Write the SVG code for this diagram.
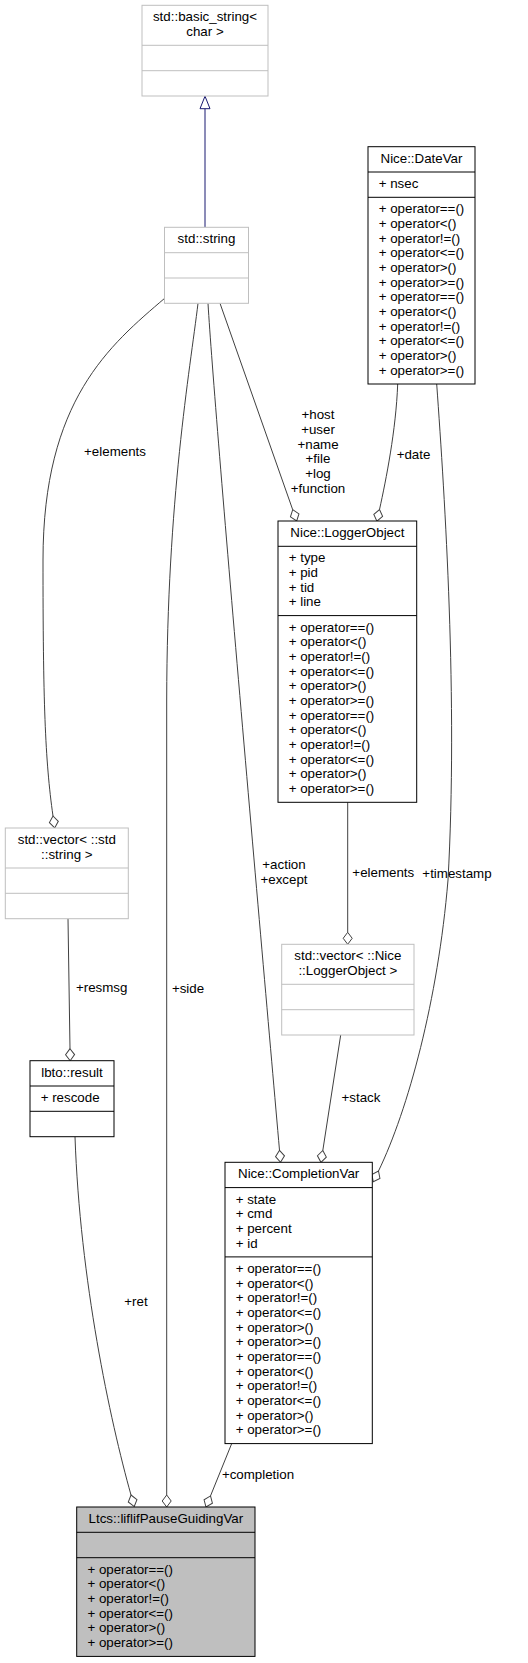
<svg xmlns="http://www.w3.org/2000/svg" width="528" height="1663" viewBox="0 0 528 1663">
<style>
text{font-family:"Liberation Sans",Arial,Helvetica,sans-serif;font-size:13.33px;fill:#000}
.c{text-anchor:middle}
.bk{fill:#fff;stroke:#000;stroke-width:1}
.gy{fill:#fff;stroke:#bfbfbf;stroke-width:1}
.sel{fill:#bfbfbf;stroke:#000;stroke-width:1}
.sk{stroke:#000;stroke-width:1}
.sg{stroke:#bfbfbf;stroke-width:1}
.e{fill:none;stroke:#404040;stroke-width:1;marker-end:url(#dia)}
.inh{fill:none;stroke:#191970;stroke-width:1;marker-end:url(#tri)}
</style>
<defs>
<marker id="dia" markerUnits="userSpaceOnUse" viewBox="-1 -6 14 12" refX="0" refY="0" markerWidth="14" markerHeight="12" orient="auto" overflow="visible">
<path d="M0,0 L6,-4.5 L12,0 L6,4.5 Z" fill="#fff" stroke="#404040" stroke-width="1"/>
</marker>
<marker id="tri" markerUnits="userSpaceOnUse" viewBox="-1 -6 15 12" refX="0" refY="0" markerWidth="15" markerHeight="12" orient="auto" overflow="visible">
<path d="M0,-5 L12.5,0 L0,5 Z" fill="#fff" stroke="#191970" stroke-width="1"/>
</marker>
</defs>

<g id="edges">
<path class="inh" d="M205,227.3 L205,108.7"/>
<path class="e" d="M165,298 C110,345 43,400 43,560 C43,700 45,760 53,816"/>
<path class="e" d="M68,918.7 L70,1048.7"/>
<path class="e" d="M75,1136.7 C80,1280 110,1420 131,1495"/>
<path class="e" d="M198,303.3 C190,370 167,500 166.7,700 L166.7,1495"/>
<path class="e" d="M208,303.3 C215,420 262,950 279.5,1150.3"/>
<path class="e" d="M220,303.3 L292.7,509.7"/>
<path class="e" d="M397.7,384 C396,430 386,480 379.5,509.5"/>
<path class="e" d="M436.7,384 C445,500 458,700 448,880 C438,1000 408,1110 378.5,1171"/>
<path class="e" d="M347.7,802.3 L347.7,932.3"/>
<path class="e" d="M340.7,1035 L322.8,1150.5"/>
<path class="e" d="M231.7,1443.6 L210.5,1495.9"/>
<text class="c" x="115" y="456">+elements</text>
<text class="c" x="101.7" y="992">+resmsg</text>
<text class="c" x="188" y="992.7">+side</text>
<text class="c" x="136" y="1306">+ret</text>
<text class="c" x="258" y="1479.3">+completion</text>
<text class="c" x="284" y="869.3">+action</text>
<text class="c" x="284" y="884">+except</text>
<text class="c" x="383.3" y="876.7">+elements</text>
<text class="c" x="361" y="1101.7">+stack</text>
<text class="c" x="457" y="878">+timestamp</text>
<text class="c" x="318" y="419.3">+host</text>
<text class="c" x="318" y="434">+user</text>
<text class="c" x="318" y="448.7">+name</text>
<text class="c" x="318" y="463.3">+file</text>
<text class="c" x="318" y="478">+log</text>
<text class="c" x="318" y="492.7">+function</text>
<text class="c" x="413.5" y="459">+date</text>
</g>

<g id="basic_string">
<rect class="gy" x="142" y="5.3" width="126" height="90.7"/>
<line class="sg" x1="142" y1="45.3" x2="268" y2="45.3"/>
<line class="sg" x1="142" y1="70.7" x2="268" y2="70.7"/>
<text class="c" x="205" y="21.3">std::basic_string&lt;</text>
<text class="c" x="205" y="36">char &gt;</text>
</g>

<g id="std_string">
<rect class="gy" x="164.5" y="227.3" width="84" height="76"/>
<line class="sg" x1="164.5" y1="252.7" x2="248.5" y2="252.7"/>
<line class="sg" x1="164.5" y1="278" x2="248.5" y2="278"/>
<text class="c" x="206.5" y="243.3">std::string</text>
</g>

<g id="DateVar">
<rect class="bk" x="368" y="146.7" width="107" height="237.3"/>
<line class="sk" x1="368" y1="172" x2="475" y2="172"/>
<line class="sk" x1="368" y1="197.3" x2="475" y2="197.3"/>
<text class="c" x="421.5" y="162.7">Nice::DateVar</text>
<text x="378.7" y="188">+ nsec</text>
<text x="378.7" y="213.3">+ operator==()</text>
<text x="378.7" y="228">+ operator&lt;()</text>
<text x="378.7" y="242.7">+ operator!=()</text>
<text x="378.7" y="257.3">+ operator&lt;=()</text>
<text x="378.7" y="272">+ operator&gt;()</text>
<text x="378.7" y="286.7">+ operator&gt;=()</text>
<text x="378.7" y="301.3">+ operator==()</text>
<text x="378.7" y="316">+ operator&lt;()</text>
<text x="378.7" y="330.7">+ operator!=()</text>
<text x="378.7" y="345.3">+ operator&lt;=()</text>
<text x="378.7" y="360">+ operator&gt;()</text>
<text x="378.7" y="374.7">+ operator&gt;=()</text>
</g>

<g id="LoggerObject">
<rect class="bk" x="278" y="521" width="138.7" height="281.3"/>
<line class="sk" x1="278" y1="546.3" x2="416.7" y2="546.3"/>
<line class="sk" x1="278" y1="615.6" x2="416.7" y2="615.6"/>
<text class="c" x="347.35" y="537">Nice::LoggerObject</text>
<text x="288.7" y="562.3">+ type</text>
<text x="288.7" y="577">+ pid</text>
<text x="288.7" y="591.7">+ tid</text>
<text x="288.7" y="606.3">+ line</text>
<text x="288.7" y="631.6">+ operator==()</text>
<text x="288.7" y="646.3">+ operator&lt;()</text>
<text x="288.7" y="661">+ operator!=()</text>
<text x="288.7" y="675.6">+ operator&lt;=()</text>
<text x="288.7" y="690.3">+ operator&gt;()</text>
<text x="288.7" y="705">+ operator&gt;=()</text>
<text x="288.7" y="719.6">+ operator==()</text>
<text x="288.7" y="734.3">+ operator&lt;()</text>
<text x="288.7" y="749">+ operator!=()</text>
<text x="288.7" y="763.6">+ operator&lt;=()</text>
<text x="288.7" y="778.3">+ operator&gt;()</text>
<text x="288.7" y="793">+ operator&gt;=()</text>
</g>

<g id="vector_string">
<rect class="gy" x="5.3" y="828" width="123" height="90.7"/>
<line class="sg" x1="5.3" y1="868" x2="128.3" y2="868"/>
<line class="sg" x1="5.3" y1="893.3" x2="128.3" y2="893.3"/>
<text class="c" x="66.8" y="844">std::vector&lt; ::std</text>
<text class="c" x="66.8" y="858.7">::string &gt;</text>
</g>

<g id="vector_LoggerObject">
<rect class="gy" x="281.7" y="944.3" width="132.3" height="90.7"/>
<line class="sg" x1="281.7" y1="984.3" x2="414" y2="984.3"/>
<line class="sg" x1="281.7" y1="1009.7" x2="414" y2="1009.7"/>
<text class="c" x="347.85" y="960.3">std::vector&lt; ::Nice</text>
<text class="c" x="347.85" y="975">::LoggerObject &gt;</text>
</g>

<g id="lbto_result">
<rect class="bk" x="30" y="1060.7" width="84" height="76"/>
<line class="sk" x1="30" y1="1086" x2="114" y2="1086"/>
<line class="sk" x1="30" y1="1111.3" x2="114" y2="1111.3"/>
<text class="c" x="72" y="1076.7">lbto::result</text>
<text x="40.7" y="1102">+ rescode</text>
</g>

<g id="CompletionVar">
<rect class="bk" x="225" y="1162.3" width="147.3" height="281.3"/>
<line class="sk" x1="225" y1="1187.6" x2="372.3" y2="1187.6"/>
<line class="sk" x1="225" y1="1256.9" x2="372.3" y2="1256.9"/>
<text class="c" x="298.65" y="1178.3">Nice::CompletionVar</text>
<text x="235.7" y="1203.6">+ state</text>
<text x="235.7" y="1218.3">+ cmd</text>
<text x="235.7" y="1233">+ percent</text>
<text x="235.7" y="1247.6">+ id</text>
<text x="235.7" y="1272.9">+ operator==()</text>
<text x="235.7" y="1287.6">+ operator&lt;()</text>
<text x="235.7" y="1302.3">+ operator!=()</text>
<text x="235.7" y="1316.9">+ operator&lt;=()</text>
<text x="235.7" y="1331.6">+ operator&gt;()</text>
<text x="235.7" y="1346.3">+ operator&gt;=()</text>
<text x="235.7" y="1360.9">+ operator==()</text>
<text x="235.7" y="1375.6">+ operator&lt;()</text>
<text x="235.7" y="1390.3">+ operator!=()</text>
<text x="235.7" y="1404.9">+ operator&lt;=()</text>
<text x="235.7" y="1419.6">+ operator&gt;()</text>
<text x="235.7" y="1434.3">+ operator&gt;=()</text>
</g>

<g id="Ltcs">
<rect class="sel" x="76.7" y="1507" width="178.3" height="149.4"/>
<line class="sk" x1="76.7" y1="1532.3" x2="255" y2="1532.3"/>
<line class="sk" x1="76.7" y1="1557.7" x2="255" y2="1557.7"/>
<text class="c" x="165.85" y="1523">Ltcs::liflifPauseGuidingVar</text>
<text x="87.4" y="1573.7">+ operator==()</text>
<text x="87.4" y="1588.4">+ operator&lt;()</text>
<text x="87.4" y="1603">+ operator!=()</text>
<text x="87.4" y="1617.7">+ operator&lt;=()</text>
<text x="87.4" y="1632.4">+ operator&gt;()</text>
<text x="87.4" y="1647">+ operator&gt;=()</text>
</g>
</svg>
